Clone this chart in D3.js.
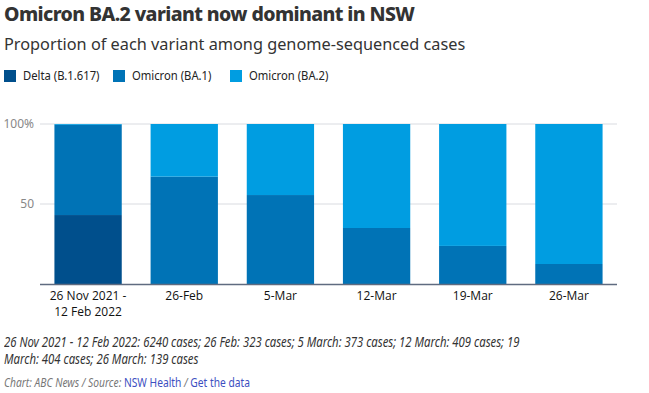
<!DOCTYPE html>
<html lang="en">
<head>
<meta charset="utf-8">
<title>Omicron BA.2 variant now dominant in NSW</title>
<script src="https://cdn.jsdelivr.net/npm/d3@7"></script>
<style>
    body { margin: 0; background: #fff; font-family: "Noto Sans", "Open Sans", sans-serif; color: #222; }
    .wrap { position: relative; width: 649px; height: 393px; overflow: hidden; }
    .hed { position: absolute; left: 4px; top: 0px; margin: 0; font-size: 19.5px; font-weight: 800; color: #333; letter-spacing: -0.6px; white-space: nowrap; }
    .dek { position: absolute; left: 4px; top: 33px; margin: 0; font-size: 16.3px; font-weight: 400; color: #333; white-space: nowrap; }
    .legend { position: absolute; left: 0; top: 67px; width: 400px; height: 16px; font-size: 12.5px; color: #222; }
    .legend-item { position: absolute; top: 0; display: flex; align-items: center; white-space: nowrap; }
    .legend-item span { display: inline-block; width: 12px; height: 12px; margin-right: 7px; }
    .legend-item div { transform: scaleX(0.9); transform-origin: left center; }
    .notes { position: absolute; left: 4px; top: 334px; width: 630px; margin: 0; font-size: 13.5px; font-style: italic; line-height: 17px; color: #333; transform: scaleX(0.84); transform-origin: left top; }
    .source { position: absolute; left: 4px; top: 374px; margin: 0; font-size: 12.5px; font-style: italic; color: #777; white-space: nowrap; transform: scaleX(0.82); transform-origin: left top; }
    .source a { color: #3c4fc1; text-decoration: none; font-style: normal; }
    svg { position: absolute; left: 0; top: 0; }
</style>
</head>
<body>
<div class="wrap">
    <h2 class="hed">Omicron BA.2 variant now dominant in NSW</h2>
    <h3 class="dek">Proportion of each variant among genome-sequenced cases</h3>
    <div class="legend" id="legend"></div>
    <div id="chart"></div>
    <p class="notes">26 Nov 2021 - 12 Feb 2022: 6240 cases; 26 Feb: 323 cases; 5 March: 373 cases; 12 March: 409 cases; 19 March: 404 cases; 26 March: 139 cases</p>
    <p class="source">Chart: ABC News / Source: <a>NSW Health</a> / <a>Get the data</a></p>
</div>
<script>
    // data
    const periods = ["26 Nov 2021 - 12 Feb 2022", "26-Feb", "5-Mar", "12-Mar", "19-Mar", "26-Mar"];
    const delta = [43.1, 0, 0, 0, 0, 0];
    const ba1 = [56.4, 67.1, 55.6, 35.0, 23.8, 12.5];
    const ba2 = [0.5, 32.9, 44.4, 65.0, 76.2, 87.5];
    const seriesNames = ["Delta (B.1.617)", "Omicron (BA.1)", "Omicron (BA.2)"];
    const seriesColors = ["#004f8c", "#0073b6", "#009de1"];
    const yTicks = [50, 100];

    const rows = periods.map((p, i) => ({ period: p, delta: delta[i], ba1: ba1[i], ba2: ba2[i] }));
    const keys = ["delta", "ba1", "ba2"];

    // legend
    const legendX = [4, 113, 230];
    const legend = d3.select("#legend");
    seriesNames.forEach((name, i) => {
        const item = legend.append("div").attr("class", "legend-item").style("left", legendX[i] + "px");
        item.append("span").style("background", seriesColors[i]);
        item.append("div").text(name);
    });

    const W = 649, H = 393;
    const margin = { left: 40, right: 32, top: 124, bottom: 109 };

    const svg = d3.select("#chart").append("svg")
        .attr("width", W).attr("height", H);

    const x = d3.scaleBand()
        .domain(periods)
        .range([margin.left, W - margin.right])
        .paddingInner(0.3)
        .paddingOuter(0.15);

    const y = d3.scaleLinear()
        .domain([0, 100])
        .range([H - margin.bottom, margin.top]);

    // gridlines
    svg.append("g")
        .selectAll("line")
        .data(yTicks)
        .join("line")
        .attr("x1", margin.left).attr("x2", W - margin.right)
        .attr("y1", d => y(d)).attr("y2", d => y(d))
        .attr("stroke", "#d9dbe0").attr("stroke-width", 1);

    // y labels
    svg.append("g")
        .selectAll("text")
        .data(yTicks)
        .join("text")
        .attr("x", 34).attr("y", d => y(d) + 4)
        .attr("text-anchor", "end")
        .attr("font-size", 12)
        .attr("fill", "#888")
        .text(d => d === 100 ? "100%" : d);

    const stacked = d3.stack().keys(keys)(rows);

    svg.append("g")
        .selectAll("g")
        .data(stacked)
        .join("g")
        .attr("fill", (d, i) => seriesColors[i])
        .selectAll("rect")
        .data(d => d)
        .join("rect")
        .attr("x", d => x(d.data.period))
        .attr("width", x.bandwidth())
        .attr("y", d => y(d[1]))
        .attr("height", d => y(d[0]) - y(d[1]));

    // baseline
    svg.append("line")
        .attr("x1", margin.left).attr("x2", W - margin.right)
        .attr("y1", y(0) + 0.5).attr("y2", y(0) + 0.5)
        .attr("stroke", "#5f6b80").attr("stroke-width", 1.5);

    // x labels, long one split over two lines
    const labelLines = periods.map(p => p.indexOf(" - ") > -1 ? [p.split(" - ")[0] + " -", p.split(" - ")[1]] : [p]);
    const xg = svg.append("g")
        .attr("font-size", 12)
        .attr("font-family", "'Open Sans', 'Noto Sans', sans-serif")
        .attr("font-weight", 500)
        .attr("fill", "#111")
        .attr("text-anchor", "middle");

    periods.forEach((p, i) => {
        labelLines[i].forEach((line, j) => {
            xg.append("text")
                .attr("x", x(p) + x.bandwidth() / 2)
                .attr("y", y(0) + 16 + j * 16)
                .text(line);
        });
    });
</script>
</body>
</html>
